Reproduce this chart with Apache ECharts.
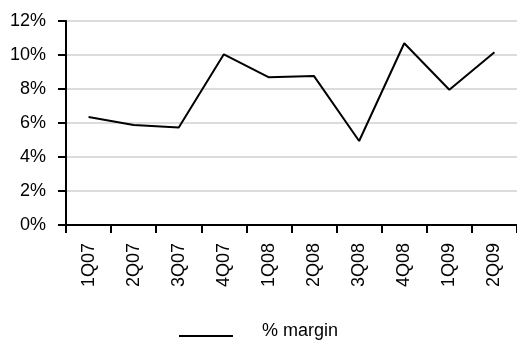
<!DOCTYPE html>
<html><head><meta charset="utf-8">
<script src="https://cdn.jsdelivr.net/npm/echarts@6/dist/echarts.min.js"></script>
<style>html,body{margin:0;padding:0;background:#fff}#c{width:517px;height:345px}</style>
</head><body><div id="c"></div>
<script>
var categories = ['1Q07','2Q07','3Q07','4Q07','1Q08','2Q08','3Q08','4Q08','1Q09','2Q09'];
var marginValues = [6.35, 5.88, 5.74, 10.04, 8.69, 8.76, 4.94, 10.69, 7.96, 10.16];
var seriesName = '% margin';
var yTicks = [0, 2, 4, 6, 8, 10, 12];

var font = 'Liberation Sans, Arial, Helvetica, sans-serif';
var chart = echarts.init(document.getElementById('c'));
chart.setOption({
  animation: false,
  grid: {left: 66, right: -9, top: 21, bottom: 120, containLabel: false},
  legend: {
    bottom: 0, left: 'center',
    data: [{name: seriesName, icon: 'path://M0,0L54,0L54,0.01Z M0,10L54,10L54,12L0,12Z'}],
    itemWidth: 54, itemHeight: 12,
    textStyle: {fontFamily: font, fontSize: 18, color: '#000', padding: [0, 0, 0, 24]}
  },
  xAxis: {
    type: 'category', data: categories, boundaryGap: true,
    axisLine: {lineStyle: {color: '#000', width: 2}},
    axisTick: {show: true, length: 8, lineStyle: {color: '#000', width: 2}},
    axisLabel: {rotate: 90, margin: 18, fontFamily: font, fontSize: 18, color: '#000'},
    splitLine: {show: false}
  },
  yAxis: {
    type: 'value', min: yTicks[0], max: yTicks[yTicks.length - 1], interval: 2,
    axisLine: {show: true, lineStyle: {color: '#000', width: 2}},
    axisTick: {show: true, length: 8, lineStyle: {color: '#000', width: 2}},
    axisLabel: {formatter: '{value}%', margin: 20, fontFamily: font, fontSize: 18, color: '#000'},
    splitLine: {show: true, lineStyle: {color: '#d0d0d0', width: 1.5}}
  },
  series: [{
    name: seriesName, type: 'line', data: marginValues,
    symbol: 'none', lineStyle: {color: '#000', width: 2},
    itemStyle: {color: '#000'}
  }]
});
</script></body></html>
